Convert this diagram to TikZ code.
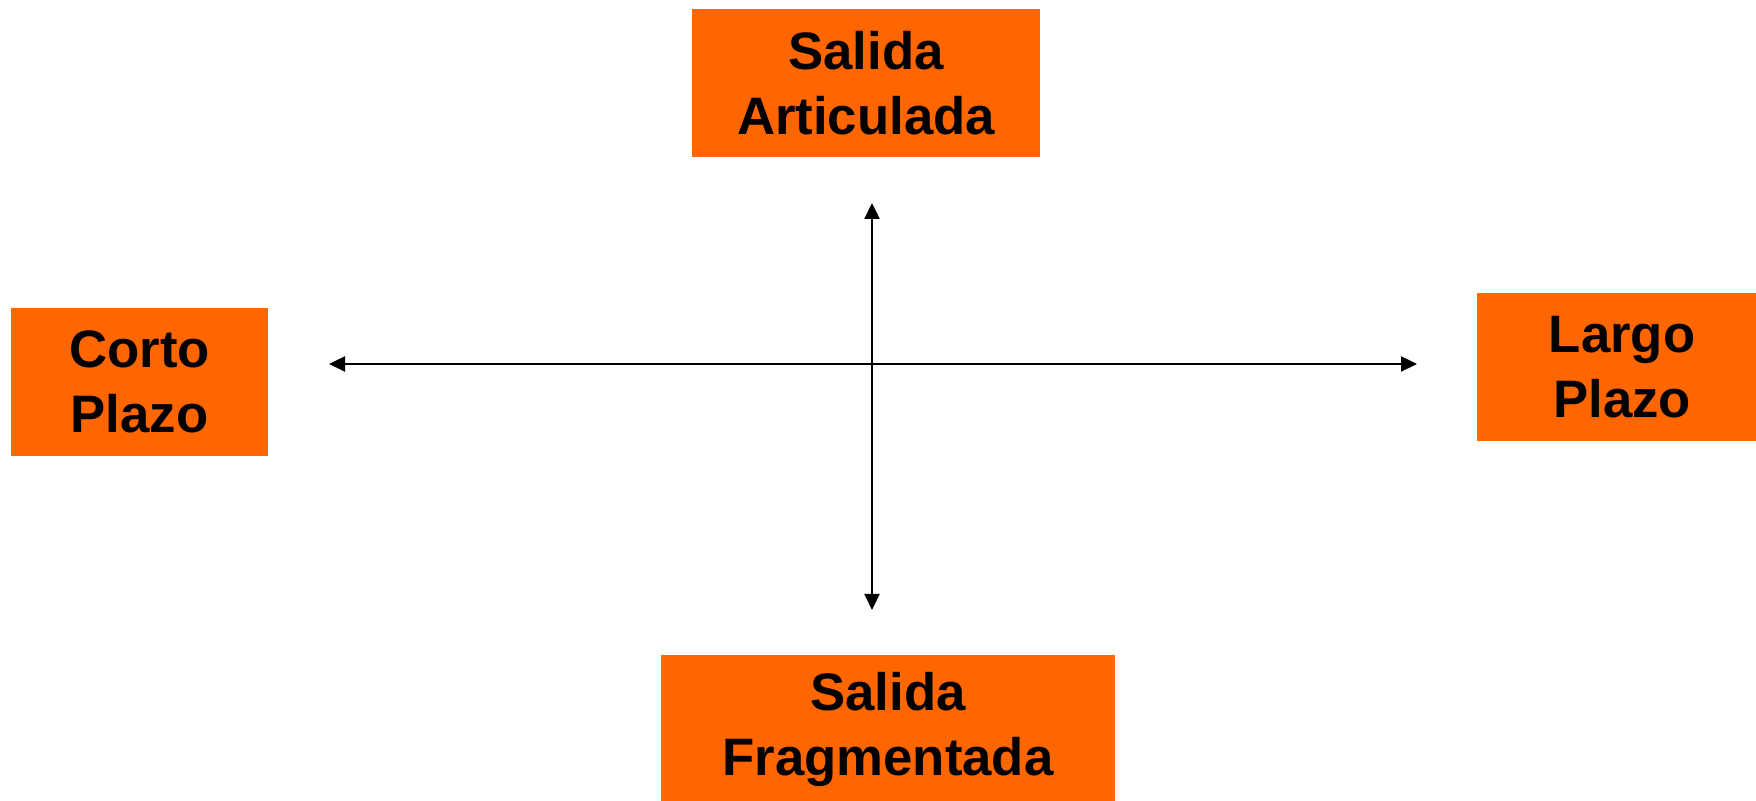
\documentclass[tikz,border=0pt]{standalone}
\usepackage{fontspec}
\setmainfont{Liberation Sans}
\usetikzlibrary{arrows.meta}
\definecolor{naranja}{HTML}{FF6600}
\begin{document}
\begin{tikzpicture}[
  caja/.style={fill=naranja, inner sep=0pt, minimum height=1.48cm, align=center,
    font=\fontsize{15}{18.5}\selectfont\bfseries},
  eje/.style={line width=0.65pt, {Triangle[length=1.6mm,width=1.5mm]}-{Triangle[length=1.6mm,width=1.5mm]}}]
  \useasboundingbox (0,0) rectangle (17.56,8.01);
  \node[caja, minimum width=3.48cm] (art) at (8.66,7.18) {Salida\\Articulada};
  \node[caja, minimum width=2.57cm] (corto) at (1.395,4.19) {Corto\\Plazo};
  \node[caja, minimum width=2.90cm] (largo) at (16.22,4.34) {Largo\\Plazo};
  \node[caja, minimum width=4.54cm] (frag) at (8.88,0.715) {Salida\\Fragmentada};
  \coordinate (arriba) at (8.72,5.98);
  \coordinate (abajo) at (8.72,1.91);
  \coordinate (izq) at (3.29,4.37);
  \coordinate (der) at (14.17,4.37);
  \draw[eje] (izq) -- (der);
  \draw[eje] (arriba) -- (abajo);
\end{tikzpicture}
\end{document}
